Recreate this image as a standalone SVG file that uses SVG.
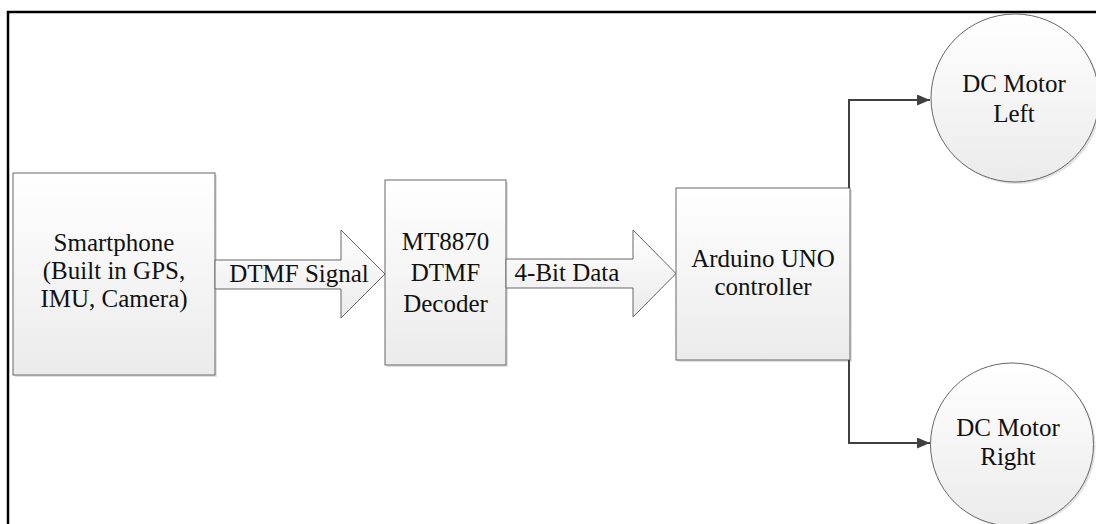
<svg xmlns="http://www.w3.org/2000/svg" width="1096" height="524" viewBox="0 0 1096 524">
<style>
.box{fill:url(#g);stroke:#666;stroke-width:1}
.shadow{fill:#cfcfcf;opacity:0.6}
.t{font-family:'Liberation Serif',Tinos,'DejaVu Serif','Times New Roman',serif;font-size:25px;fill:#111;text-anchor:middle}
.conn{fill:none;stroke:#404040;stroke-width:2}
.frame{stroke:#000;stroke-width:2.5;fill:none}
</style>
<defs>
<linearGradient id="g" x1="0" y1="0" x2="0" y2="1">
<stop offset="0" stop-color="#ffffff"/>
<stop offset="1" stop-color="#ebebeb"/>
</linearGradient>
<marker id="ah" viewBox="0 0 13 11" refX="13" refY="5.5" markerWidth="13" markerHeight="11" markerUnits="userSpaceOnUse" orient="auto">
<path d="M0,0 L13,5.5 L0,11 Z" fill="#404040"/>
</marker>
</defs>
<path class="frame" d="M8,524 V12 H1096"/>
<g id="smartphone">
<rect class="shadow" x="15" y="175" width="202" height="202"/>
<rect class="box" x="13" y="173" width="202" height="202"/>
<text class="t" x="114" y="251" font-family="'Liberation Serif', serif">Smartphone</text>
<text class="t" x="114" y="279" font-family="'Liberation Serif', serif">(Built in GPS,</text>
<text class="t" x="114" y="307" font-family="'Liberation Serif', serif">IMU, Camera)</text>
</g>
<g id="dtmf-arrow">
<polygon class="box" points="215,260 341,260 341,230 385,274 341,318 341,289 215,289"/>
<text class="t" x="299" y="282" font-family="'Liberation Serif', serif">DTMF Signal</text>
</g>
<g id="mt8870">
<rect class="shadow" x="387" y="182" width="121" height="185"/>
<rect class="box" x="385" y="180" width="121" height="185"/>
<text class="t" x="445.5" y="250" font-family="'Liberation Serif', serif">MT8870</text>
<text class="t" x="445.5" y="281" font-family="'Liberation Serif', serif">DTMF</text>
<text class="t" x="445.5" y="312" font-family="'Liberation Serif', serif">Decoder</text>
</g>
<g id="data-arrow">
<polygon class="box" points="506,259 633,259 633,230 676,273.5 633,317 633,288 506,288"/>
<text class="t" x="567" y="281" font-family="'Liberation Serif', serif">4-Bit Data</text>
</g>
<g id="arduino">
<rect class="shadow" x="678" y="190" width="174" height="172"/>
<rect class="box" x="676" y="188" width="174" height="172"/>
<text class="t" x="763" y="267" font-family="'Liberation Serif', serif">Arduino UNO</text>
<text class="t" x="763" y="295" font-family="'Liberation Serif', serif">controller</text>
</g>
<g id="motor-left">
<circle class="shadow" cx="1017" cy="100" r="84"/>
<circle class="box" cx="1015" cy="98" r="84"/>
<text class="t" x="1014" y="92" font-family="'Liberation Serif', serif">DC Motor</text>
<text class="t" x="1014" y="122" font-family="'Liberation Serif', serif">Left</text>
</g>
<g id="motor-right">
<circle class="shadow" cx="1014" cy="446" r="81.5"/>
<circle class="box" cx="1012" cy="444.5" r="81.5"/>
<text class="t" x="1008" y="436" font-family="'Liberation Serif', serif">DC Motor</text>
<text class="t" x="1008" y="465" font-family="'Liberation Serif', serif">Right</text>
</g>
<g id="connectors">
<path class="conn" d="M849,188 V100 H930" marker-end="url(#ah)"/>
<path class="conn" d="M849,360 V443 H930" marker-end="url(#ah)"/>
</g>
</svg>
